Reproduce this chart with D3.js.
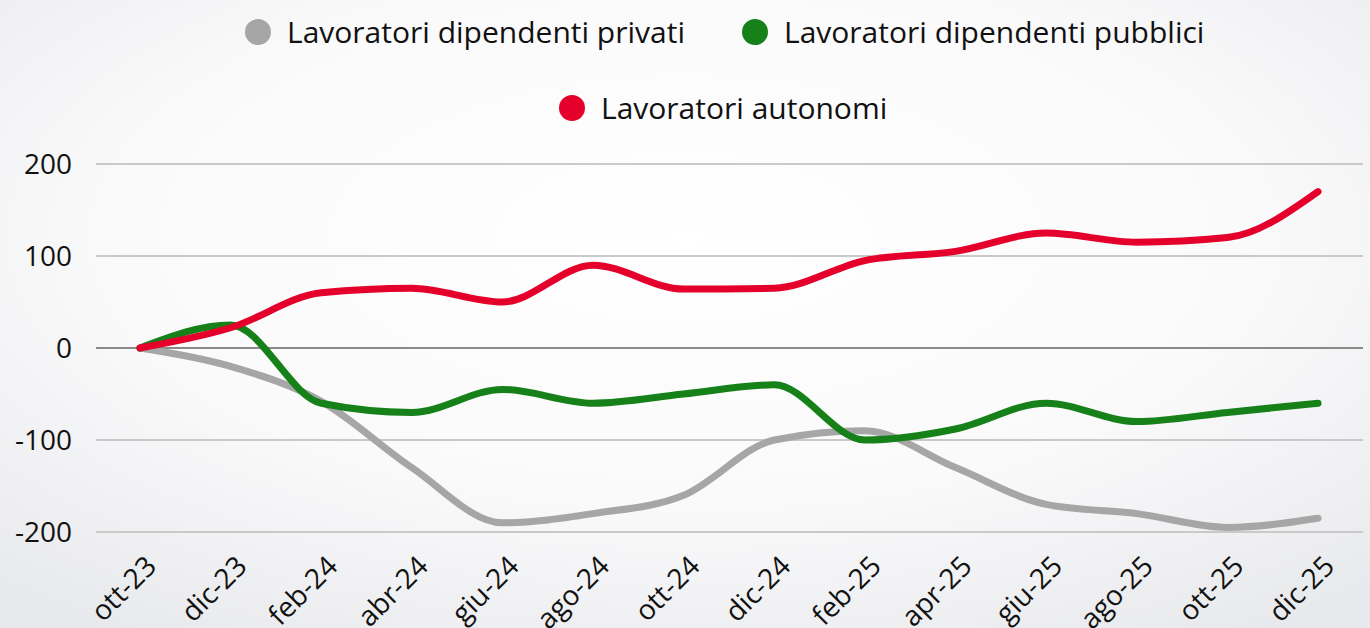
<!DOCTYPE html>
<html>
<head>
<meta charset="utf-8">
<script src="https://cdn.jsdelivr.net/npm/d3@7"></script>
<style>
  body { margin: 0; overflow: hidden; }
  text { font-family: "Open Sans", "Noto Sans", sans-serif; fill: #111; }
</style>
</head>
<body>
<script>
// months on the axis (one point every two months)
var months = ["ott-23", "dic-23", "feb-24", "abr-24", "giu-24", "ago-24", "ott-24",
  "dic-24", "feb-25", "apr-25", "giu-25", "ago-25", "ott-25", "dic-25"];

var privati   = [0, -20, -58, -130, -190, -180, -160, -100, -90, -130, -170, -180, -195, -185];
var pubblici  = [0, 25, -60, -70, -45, -60, -50, -40, -100, -88, -60, -80, -70, -60];
var autonomi  = [0, 22, 60, 65, 50, 90, 64, 65, 95, 105, 125, 115, 120, 170];

var yTicks = [200, 100, 0, -100, -200];

var series = [
  { name: "Lavoratori dipendenti privati", color: "#a6a6a6", values: privati },
  { name: "Lavoratori dipendenti pubblici", color: "#168118", values: pubblici },
  { name: "Lavoratori autonomi", color: "#e4002b", values: autonomi }
];

var W = 1370, H = 628;

var svg = d3.select("body")
  .append("svg")
  .attr("width", W)
  .attr("height", H);

// soft background
var grad = svg.append("defs").append("radialGradient")
  .attr("id", "bg")
  .attr("cx", "50%").attr("cy", "38%").attr("r", "75%");
grad.append("stop").attr("offset", "0%").attr("stop-color", "#ffffff");
grad.append("stop").attr("offset", "55%").attr("stop-color", "#fafafb");
grad.append("stop").attr("offset", "100%").attr("stop-color", "#e8e9ec");

svg.append("rect")
  .attr("width", W)
  .attr("height", H)
  .style("fill", "url(#bg)");

var x = d3.scalePoint()
  .domain(months)
  .range([140, 1318]);

var y = d3.scaleLinear()
  .domain([-200, 200])
  .range([532, 164]);

// grid lines
svg.append("g")
  .selectAll("line")
  .data(yTicks)
  .join("line")
  .attr("x1", 96)
  .attr("x2", 1363)
  .attr("y1", d => y(d))
  .attr("y2", d => y(d))
  .style("stroke", d => d === 0 ? "#8a8a8a" : "#c9c9c9")
  .style("stroke-width", 2);

// y axis labels
svg.append("g")
  .selectAll("text")
  .data(yTicks)
  .join("text")
  .attr("x", 72)
  .attr("y", d => y(d))
  .attr("dy", "0.36em")
  .attr("text-anchor", "end")
  .style("font-size", "28px")
  .text(d => d);

// x axis labels, rotated
svg.append("g")
  .selectAll("text")
  .data(months)
  .join("text")
  .attr("transform", d => "translate(" + (x(d) + 18) + ",568) rotate(-45)")
  .attr("text-anchor", "end")
  .style("font-size", "28px")
  .text(d => d);

var line = d3.line()
  .x((d, i) => x(months[i]))
  .y(d => y(d))
  .curve(d3.curveMonotoneX);

svg.append("g")
  .selectAll("path")
  .data(series)
  .join("path")
  .attr("d", d => line(d.values))
  .style("fill", "none")
  .style("stroke", d => d.color)
  .style("stroke-width", 7)
  .style("stroke-linecap", "round")
  .style("stroke-linejoin", "round");

// legend
var legendPos = [
  { cx: 258, cy: 32 },
  { cx: 755, cy: 32 },
  { cx: 572, cy: 108 }
];

var leg = svg.append("g")
  .selectAll("g")
  .data(series)
  .join("g")
  .attr("transform", (d, i) => "translate(" + legendPos[i].cx + "," + legendPos[i].cy + ")");

leg.append("circle")
  .attr("r", 13)
  .style("fill", d => d.color);

leg.append("text")
  .attr("x", 29)
  .attr("dy", "0.36em")
  .style("font-size", "30px")
  .text(d => d.name);
</script>
</body>
</html>
